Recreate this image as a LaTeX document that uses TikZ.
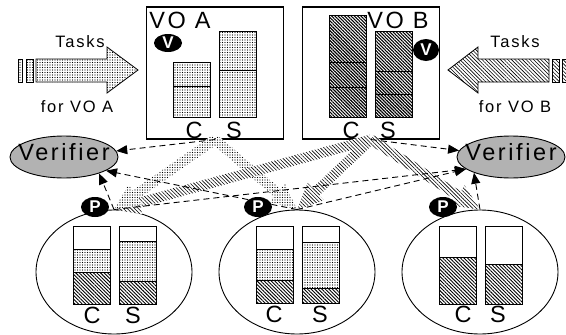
\documentclass[tikz,border=0pt]{standalone}
\usepackage{fontspec}
\setmainfont{Liberation Sans}[LetterSpace=11]
\usetikzlibrary{arrows.meta,calc,patterns.meta,shapes.geometric}

\newcommand{\flowarrow}[3]{%
  \path[#1] ($(#2)!5pt!90:(#3)$) -- ($(#3)!26pt!(#2)!5pt!-90:(#2)$)
    -- ($(#3)!26pt!(#2)!12pt!-90:(#2)$) -- (#3)
    -- ($(#3)!26pt!(#2)!12pt!90:(#2)$) -- ($(#3)!26pt!(#2)!5pt!90:(#2)$)
    -- ($(#2)!5pt!-90:(#3)$) -- cycle;}
\newcommand{\cell}[4]{\draw[cellline,#4] (#1,#2) rectangle (#1+37,#3);}

\begin{document}
\begin{tikzpicture}[x=1pt,y=-1pt,
        every node/.style={inner sep=0pt},
        dotfill/.style={pattern={Dots[distance=2.5pt,radius=0.6pt]}},
        darkhatch/.style={pattern={Lines[angle=-45,distance=2.3pt,line width=1.1pt]}},
        midhatch/.style={pattern={Lines[angle=-45,distance=2.5pt,line width=0.9pt]}},
        lighthatch/.style={pattern={Lines[angle=-45,distance=2.6pt,line width=0.6pt]}},
        flowA/.style={dotfill,preaction={fill=white}},
        flowB/.style={lighthatch,preaction={fill=white}},
        vobox/.style={draw,line width=1.1pt,minimum width=137pt,minimum height=132pt},
        processor/.style={draw,ellipse,line width=0.9pt,minimum width=156pt,minimum height=124pt},
        verifier/.style={draw,ellipse,fill=black!30,line width=0.9pt,minimum width=108pt,minimum height=42pt},
        vtext/.style={font=\fontsize{23.5}{28}\selectfont},
        badge/.style={ellipse,fill=black,text=white,minimum width=28pt,minimum height=20pt,font=\fontsize{17}{20}\selectfont\bfseries},
        bigtext/.style={font=\fontsize{23.5}{28}\selectfont,anchor=base},
        smalltext/.style={font=\fontsize{16.5}{20}\selectfont,anchor=base},
        cellline/.style={line width=0.8pt},
        report/.style={line width=0.9pt,dash pattern=on 6pt off 4pt,-{Triangle[length=11pt,width=9pt]}},
        tasksA/.style={draw,line width=0.8pt,dotfill},
        tasksB/.style={draw,line width=0.8pt,lighthatch}]

        \useasboundingbox (0,0) rectangle (566,335);

        \node[processor] (procL) at (114,272) {};
        \node[processor] (procM) at (297,272) {};
        \node[processor] (procR) at (480,272) {};
        \node[vobox] (voA) at (215,73) {};
        \node[vobox] (voB) at (371,73) {};
        \node[verifier,label={[vtext,yshift=4.5pt]center:Verifier}] (verA) at (64,157) {};
        \node[verifier,label={[vtext,yshift=4.5pt]center:Verifier}] (verB) at (511,157) {};

        \cell{173}{62}{86}{dotfill}
        \cell{173}{86}{117}{dotfill}
        \cell{219}{31}{70}{dotfill}
        \cell{219}{70}{117}{dotfill}
        \cell{329}{15}{62}{darkhatch}
        \cell{329}{62}{87}{darkhatch}
        \cell{329}{87}{117}{darkhatch}
        \cell{375}{31}{71}{darkhatch}
        \cell{375}{71}{94}{darkhatch}
        \cell{375}{94}{117}{darkhatch}

        \cell{73}{226}{249}{}
        \cell{73}{249}{272}{dotfill}
        \cell{73}{272}{304}{midhatch}
        \cell{119}{226}{241}{}
        \cell{119}{241}{281}{dotfill}
        \cell{119}{281}{304}{midhatch}
        \cell{256}{226}{249}{}
        \cell{256}{249}{280}{dotfill}
        \cell{256}{280}{303}{midhatch}
        \cell{302}{226}{242}{}
        \cell{302}{242}{288}{dotfill}
        \cell{302}{288}{303}{midhatch}
        \cell{439}{226}{257}{}
        \cell{439}{257}{304}{midhatch}
        \cell{485}{226}{264}{}
        \cell{485}{264}{304}{midhatch}

        \draw[tasksA] (18,59) rectangle (22,82);
        \draw[tasksA] (26,59) rectangle (33,82);
        \draw[tasksA] (36,59) -- (107,59) -- (107,47) -- (138,70) -- (107,93) -- (107,82) -- (36,82) -- cycle;
        \draw[tasksB] (552,59) rectangle (559,82);
        \draw[tasksB] (562,59) rectangle (567,82);
        \draw[tasksB] (549,59) -- (478,59) -- (478,47) -- (448,70) -- (478,93) -- (478,82) -- (549,82) -- cycle;

        \flowarrow{flowB}{voB.south}{procR.north}
        \flowarrow{flowB}{voB.south}{procM.north}
        \flowarrow{flowA}{voA.south}{procM.north}
        \flowarrow{flowB}{voB.south}{procL.north}
        \flowarrow{flowA}{voA.south}{procL.north}

        \draw[report] (voA.south) -- (verA);
        \draw[report] (voB.south) -- (verB);
        \draw[report] (procL.north) -- (verA.-25);
        \draw[report] (procM.north) -- (verA.-18);
        \draw[report] (procL.north) -- (verB.-165);
        \draw[report] (procM.north) -- (verB.-165);
        \draw[report] (procR.north) -- (verB.-157);

        \node[badge,minimum height=18pt] (vA) at (168,43) {V};
        \node[badge,minimum width=26pt,minimum height=22pt] (vB) at (426,50) {V};
        \node[badge] (pL) at (95,207) {P};
        \node[badge] (pM) at (258,207) {P};
        \node[badge] (pR) at (443,207) {P};

        \node[bigtext] (nameA) at (180,28) {VO A};
        \node[bigtext] (nameB) at (398,28) {VO B};
        \node[bigtext] (cA) at (194,138) {C};
        \node[bigtext] (sA) at (234,138) {S};
        \node[bigtext] (cB) at (351,138) {C};
        \node[bigtext] (sB) at (388,138) {S};
        \node[bigtext] (cL) at (92,323) {C};
        \node[bigtext] (sL) at (133,323) {S};
        \node[bigtext] (cM) at (274,322) {C};
        \node[bigtext] (sM) at (320,322) {S};
        \node[bigtext] (cR) at (463,322) {C};
        \node[bigtext] (sR) at (498,322) {S};
        \node[smalltext] (taskA) at (80,47) {Tasks};
        \node[smalltext] (forA) at (77,112) {for VO A};
        \node[smalltext] (taskB) at (515,47) {Tasks};
        \node[smalltext] (forB) at (515,112) {for VO B};
    \end{tikzpicture}
\end{document}
